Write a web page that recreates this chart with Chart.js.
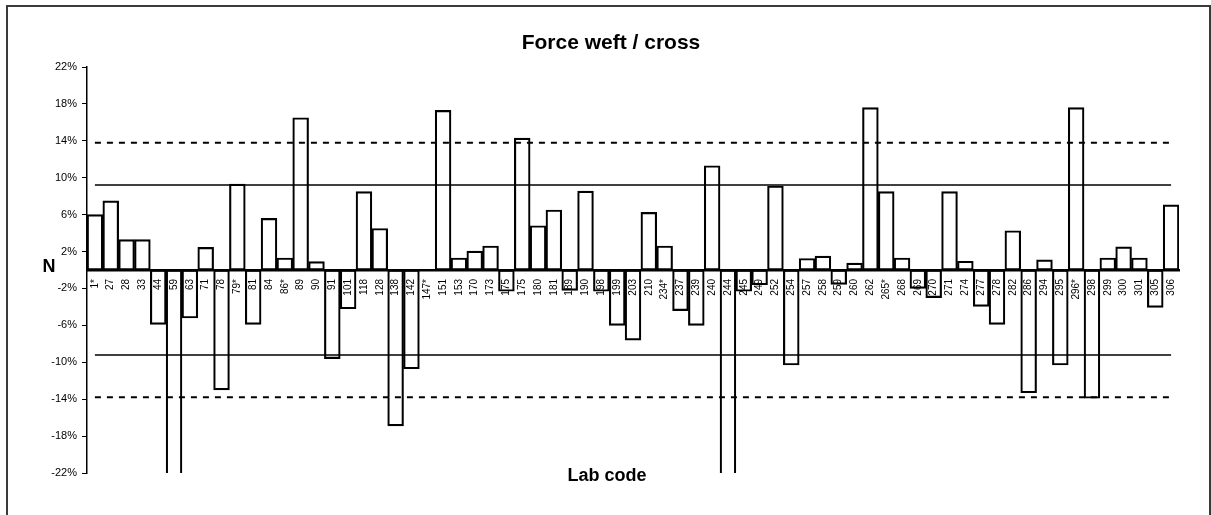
<!DOCTYPE html>
<html>
<head>
<meta charset="utf-8">
<script src="https://cdn.jsdelivr.net/npm/chart.js@4.4.1/dist/chart.umd.min.js"></script>
<style>
    html, body { margin: 0; padding: 0; background: #fff; overflow: hidden; }
    #wrap { position: absolute; left: 0; top: 0; width: 1211px; height: 515px; }
    #frame { position: absolute; left: 6px; top: 5px; width: 1201px; height: 520px; border: 2px solid #3a3a3a; pointer-events: none; }
</style>
</head>
<body>
<div id="wrap"><canvas id="barChart" width="1211" height="515"></canvas></div>
<div id="frame"></div>
<script>
// lab codes along the x axis (175 appears twice in the source)
var labCodes = ['1*', '27', '28', '33', '44', '59', '63', '71', '78', '79*',
    '81', '84', '86*', '89', '90', '91', '101', '118', '128', '138',
    '142', '147*', '151', '153', '170', '173', '175', '175', '180', '181',
    '189', '190', '198', '199', '203', '210', '234*', '237', '239', '240',
    '244', '245', '249', '252', '254', '257', '258', '259', '260', '262',
    '265*', '268', '269', '270', '271', '274', '277', '278', '282', '286',
    '294', '295', '296*', '298', '299', '300', '301', '305', '306'];

// deviation in % (59 and 244 run off the bottom)
var deviation = [6.0, 7.5, 3.3, 3.3, -5.9, -25, -5.2, 2.45, -13.0, 9.3,
    -5.9, 5.6, 1.3, 16.5, 0.9, -9.6, -4.2, 8.5, 4.5, -16.9,
    -10.7, 0, 17.3, 1.3, 2.05, 2.6, -2.3, 14.3, 4.8, 6.5,
    -2.2, 8.55, -2.3, -6.0, -7.6, 6.25, 2.6, -4.4, -6.0, 11.3,
    -25, -2.3, -1.6, 9.1, -10.3, 1.25, 1.5, -1.55, 0.75, 17.6,
    8.5, 1.3, -2.0, -3.0, 8.5, 0.95, -3.95, -5.9, 4.25, -13.3,
    1.1, -10.3, 17.6, -13.9, 1.3, 2.5, 1.3, -4.05, 7.05];

var innerLimit = 9.2;
var outerLimit = 13.8;

var yMin = -22;
var yMax = 22;
var yStep = 4;

document.addEventListener('DOMContentLoaded', function () {
    var font = "'Liberation Sans', Arial, sans-serif";
    var first = labCodes[0];
    var last = labCodes[labCodes.length - 1];

    function limitLine(value, dashed) {
        return {
            type: 'line',
            data: [{ x: first, y: value }, { x: last, y: value }],
            borderColor: '#000',
            borderWidth: dashed ? 2 : 1.5,
            borderDash: dashed ? [6, 6] : [],
            pointRadius: 0,
            fill: false
        };
    }

    var textPlugin = {
        id: 'texts',
        afterDraw: function (chart) {
            var ctx = chart.ctx;
            ctx.save();
            ctx.fillStyle = '#000';
            ctx.textAlign = 'center';
            ctx.textBaseline = 'middle';
            ctx.font = 'bold 21px ' + font;
            ctx.fillText('Force weft / cross', 611, 43);
            ctx.font = 'bold 18px ' + font;
            ctx.fillText('N', 49, 267);
            ctx.fillText('Lab code', 607, 476);
            ctx.restore();
        }
    };

    var ctx = document.getElementById('barChart').getContext('2d');
    var chart = new Chart(ctx, {
        type: 'bar',
        data: {
            labels: labCodes,
            datasets: [
                limitLine(innerLimit, false),
                limitLine(-innerLimit, false),
                limitLine(outerLimit, true),
                limitLine(-outerLimit, true),
                {
                    label: 'Force weft / cross',
                    data: deviation,
                    backgroundColor: 'rgba(255,255,255,0)',
                    borderColor: '#000',
                    borderWidth: 1.5,
                    borderSkipped: false,
                    barPercentage: 1,
                    categoryPercentage: 1
                }
            ]
        },
        options: {
            responsive: false,
            animation: false,
            layout: { padding: { left: 0, top: 67, right: 32, bottom: 42 } },
            plugins: {
                legend: { display: false },
                tooltip: { enabled: false }
            },
            scales: {
                x: {
                    position: { y: 0 },
                    grid: { display: false, tickLength: 6 },
                    border: { display: true, color: '#000', width: 2.5 },
                    ticks: {
                        autoSkip: false,
                        minRotation: 90,
                        maxRotation: 90,
                        padding: 3,
                        color: '#000',
                        font: { family: font, size: 10 }
                    }
                },
                y: {
                    min: yMin,
                    max: yMax,
                    afterFit: function (scale) { scale.width = 87; },
                    grid: { drawOnChartArea: false, drawTicks: true, tickLength: 5, color: '#000', lineWidth: 1 },
                    border: { display: true, color: '#000', width: 1.5 },
                    ticks: {
                        stepSize: yStep,
                        padding: 5,
                        color: '#000',
                        font: { family: font, size: 11 },
                        callback: function (v) { return v + '%'; }
                    }
                }
            }
        },
        plugins: [textPlugin]
    });
});
</script>
</body>
</html>
